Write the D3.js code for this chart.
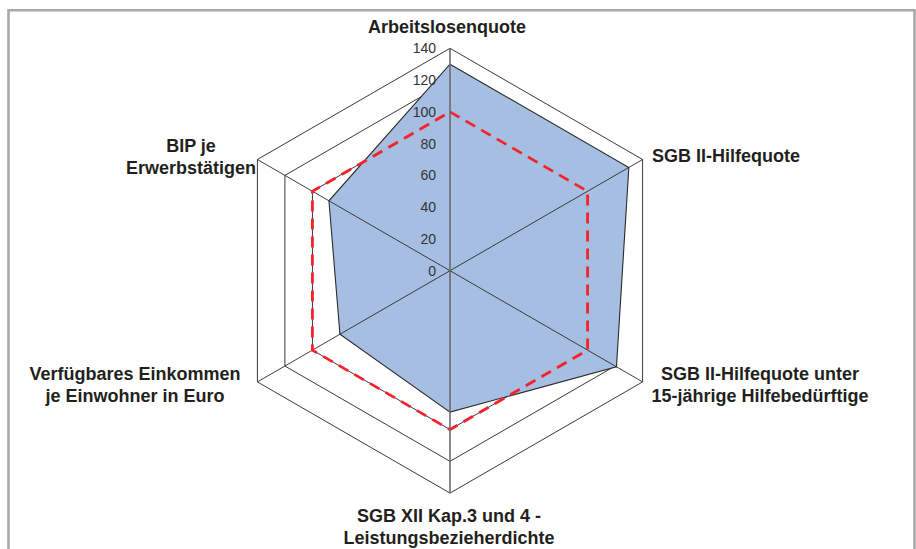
<!DOCTYPE html>
<html>
<head>
<meta charset="utf-8">
<script src="https://cdn.jsdelivr.net/npm/d3@7"></script>
<style>
  html, body { margin: 0; padding: 0; background: #fff; }
  svg { display: block; }
  text { font-family: "Liberation Sans", Arial, sans-serif; }
</style>
</head>
<body>
<svg id="chart" width="916" height="549"></svg>
<script>
// Axis categories, clockwise from the top
const categories = [
  ["Arbeitslosenquote"],
  ["SGB II-Hilfequote"],
  ["SGB II-Hilfequote unter", "15-jährige Hilfebedürftige"],
  ["SGB XII Kap.3 und 4 -", "Leistungsbezieherdichte"],
  ["Verfügbares Einkommen", "je Einwohner in Euro"],
  ["BIP je", "Erwerbstätigen"]
];
// Regional index values (filled area)
const regionValues = [130, 130, 121, 89, 80, 88];
// Reference level (dashed line)
const referenceValues = [100, 100, 100, 100, 100, 100];
// Value-axis ticks
const tickValues = [0, 20, 40, 60, 80, 100, 120, 140];

const svg = d3.select("#chart");
const cx = 450, cy = 270.7;
const rMax = 222.4;
const r = d3.scaleLinear().domain([0, 140]).range([0, rMax]);
const n = categories.length;
const angle = d3.scaleLinear().domain([0, n]).range([0, 2 * Math.PI]);

function pt(i, v) {
  const a = angle(i);
  return [r(v) * Math.sin(a), -r(v) * Math.cos(a)];
}

// Chart frame
svg.append("path")
  .attr("d", "M8.5,549 L8.5,10.3 L914.5,10.3 L914.5,549")
  .attr("fill", "none")
  .attr("stroke", "#a9a9a9")
  .attr("stroke-width", 2.6);

const radial = d3.lineRadial()
  .angle((d, i) => angle(i))
  .radius(d => r(d))
  .curve(d3.curveLinearClosed);

const g = svg.append("g").attr("transform", `translate(${cx},${cy})`);

// Hexagonal grid rings
g.selectAll("path.grid")
  .data(tickValues.filter(t => t > 0))
  .join("path")
  .attr("class", "grid")
  .attr("d", t => radial(d3.range(n).map(() => t)))
  .attr("fill", "none")
  .attr("stroke", "#222")
  .attr("stroke-width", 0.9);

// Filled series
g.append("path")
  .attr("d", radial(regionValues))
  .attr("fill", "#a7bee3")
  .attr("stroke", "#2a2a2a")
  .attr("stroke-width", 1.1);

// Diagonal spokes
g.selectAll("line.spoke")
  .data([1, 2, 4, 5])
  .join("line")
  .attr("class", "spoke")
  .attr("x1", 0).attr("y1", 0)
  .attr("x2", i => pt(i, 140)[0])
  .attr("y2", i => pt(i, 140)[1])
  .attr("stroke", "#2a2a2a")
  .attr("stroke-width", 0.9);

// Reference line at 100
g.append("path")
  .attr("d", radial(referenceValues))
  .attr("fill", "none")
  .attr("stroke", "#f5222b")
  .attr("stroke-width", 2.8)
  .attr("stroke-dasharray", "11,7");

// Value axis (vertical, top to bottom)
const yAxis = d3.scaleLinear().domain([0, 140]).range([cy, cy - rMax]);
svg.append("line")
  .attr("x1", cx).attr("x2", cx)
  .attr("y1", cy + rMax)
  .attr("y2", yAxis(140))
  .attr("stroke", "#6b6b6b")
  .attr("stroke-width", 1.6);

svg.selectAll("text.tick")
  .data(tickValues)
  .join("text")
  .attr("class", "tick")
  .attr("x", 436)
  .attr("y", d => yAxis(d))
  .attr("dy", "0.36em")
  .attr("text-anchor", "end")
  .attr("font-size", 14)
  .attr("fill", "#333")
  .text(d => d);

// Category labels
const labelPos = [
  { x: 447, y: 33, anchor: "middle" },
  { x: 652, y: 162, anchor: "start" },
  { x: 760, y: 380, anchor: "middle" },
  { x: 449, y: 522, anchor: "middle" },
  { x: 135, y: 380, anchor: "middle" },
  { x: 191, y: 152, anchor: "middle" }
];

categories.forEach((lines, i) => {
  const p = labelPos[i];
  const t = svg.append("text")
    .attr("x", p.x)
    .attr("y", p.y)
    .attr("text-anchor", p.anchor)
    .attr("font-size", 18)
    .attr("font-weight", "bold")
    .attr("fill", "#231f20");
  lines.forEach((s, k) => {
    t.append("tspan")
      .attr("x", p.x)
      .attr("dy", k === 0 ? 0 : 22)
      .text(s);
  });
});
</script>
</body>
</html>
